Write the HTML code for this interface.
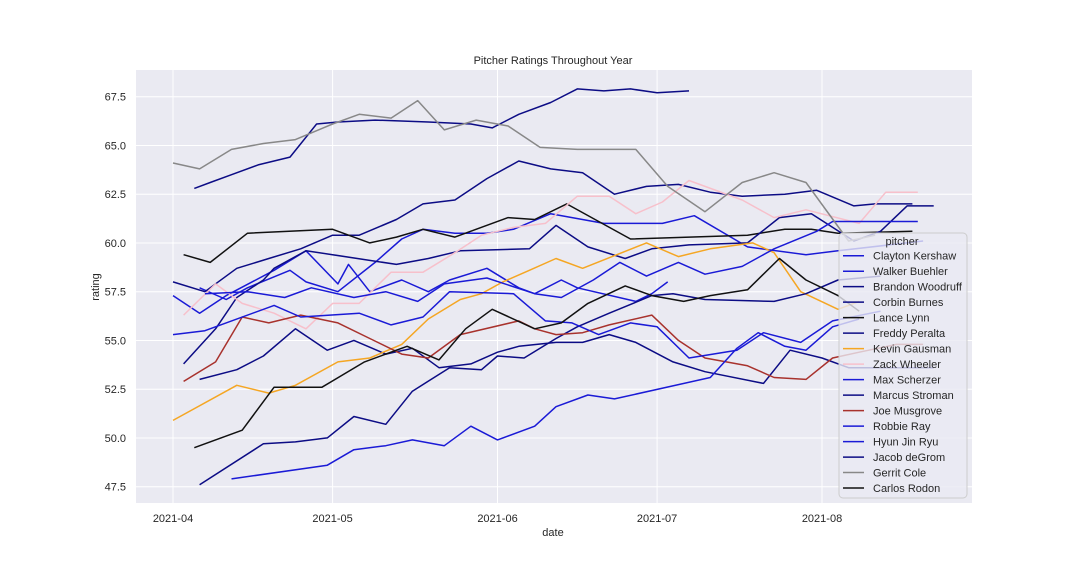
<!DOCTYPE html>
<html><head><meta charset="utf-8">
<style>
html,body{margin:0;padding:0;background:#fff;}
svg{display:block;font-family:"Liberation Sans","DejaVu Sans",sans-serif;}
</style></head>
<body>
<svg id="chart" width="1080" height="576" viewBox="0 0 1080 576">
  <rect x="136" y="70" width="836" height="433" fill="#eaeaf2"/>
  <g id="grid"></g>
  <g id="ticks"></g>
  <g id="lines"></g>
  <text x="553" y="64" text-anchor="middle" font-size="11" fill="#262626">Pitcher Ratings Throughout Year</text>
  <text x="553" y="536" text-anchor="middle" font-size="11" fill="#262626">date</text>
  <text x="99" y="287" text-anchor="middle" font-size="11" fill="#262626" transform="rotate(-90 99 287)">rating</text>
  <g id="legend"></g>
</svg>
<script>
const yTicks = [47.5, 50.0, 52.5, 55.0, 57.5, 60.0, 62.5, 65.0, 67.5];
const xTickDays = [0, 30, 61, 91, 122];
const xTickLabels = ["2021-04", "2021-05", "2021-06", "2021-07", "2021-08"];
const seriesNames = ["Clayton Kershaw","Walker Buehler","Brandon Woodruff","Corbin Burnes","Lance Lynn","Freddy Peralta","Kevin Gausman","Zack Wheeler","Max Scherzer","Marcus Stroman","Joe Musgrove","Robbie Ray","Hyun Jin Ryu","Jacob deGrom","Gerrit Cole","Carlos Rodon"];
const seriesColors = ["#1a1ad6","#1a1ad6","#0c0c85","#0c0c85","#111111","#0c0c85","#f5a623","#f7c0cb","#1a1ad6","#0c0c85","#a8322d","#1a1ad6","#1a1ad6","#0c0c85","#888888","#111111"];

const kershawDays = [0,5,10,19,25,31,33,37,43,48,52,59,65,68,73,76,87,90,93];
const kershawVals = [57.3,56.4,57.3,58.6,59.6,57.9,58.9,57.5,58.1,57.5,58.1,58.7,57.7,57.4,58.1,57.7,57.0,57.4,58.0];
const buehlerDays = [5,10,14,22,25,31,38,43,47,53,59,64,71,81,92,98,108,119,125,141];
const buehlerVals = [57.7,57.1,57.7,58.6,58.0,57.5,59.0,60.2,60.7,60.5,60.5,60.7,61.5,61.0,61.0,61.4,59.8,59.4,59.6,60.1];
const woodruffDays = [0,6,12,18,24,30,35,42,47,53,59,65,71,77,83,89,95,101,107,115,121,128,132,139];
const woodruffVals = [58.0,57.5,58.7,59.2,59.7,60.4,60.4,61.2,62.0,62.2,63.3,64.2,63.8,63.6,62.5,62.9,63.0,62.6,62.4,62.5,62.7,61.9,62.0,62.0];
const burnesDays = [5,12,17,23,29,34,40,45,50,56,61,65,72,77,82,87,94,100,111,116,122,127,143];
const burnesVals = [53.0,53.5,54.2,55.6,54.5,55.0,54.3,54.6,53.6,53.8,54.4,54.7,54.9,54.9,55.3,54.9,53.9,53.4,52.8,54.5,54.1,53.6,53.6];
const lynnDays = [2,7,14,30,37,42,47,53,63,68,74,86,108,115,120,125,139];
const lynnVals = [59.4,59.0,60.5,60.7,60.0,60.3,60.7,60.3,61.3,61.2,62.0,60.2,60.4,60.7,60.7,60.5,60.6];
const peraltaDays = [2,8,12,17,19,25,30,42,48,54,67,72,78,85,90,97,108,114,120,128,133,138,143];
const peraltaVals = [53.8,55.6,57.2,58.1,58.7,59.6,59.4,58.9,59.2,59.6,59.7,60.9,59.8,59.2,59.7,59.9,60.0,61.3,61.5,60.1,60.6,61.9,61.9];
const gausmanDays = [0,12,18,23,31,37,43,48,54,58,62,67,72,77,89,95,101,109,113,118,125,129];
const gausmanVals = [50.9,52.7,52.3,52.7,53.9,54.1,54.8,56.1,57.1,57.4,58.0,58.6,59.2,58.7,60.0,59.3,59.7,60.0,59.5,57.5,56.6,57.0];
const wheelerDays = [2,8,13,19,25,30,35,41,47,53,58,64,70,76,82,87,92,97,107,113,119,129,134,140];
const wheelerVals = [56.3,57.9,56.9,56.4,55.6,56.9,56.9,58.5,58.5,59.5,60.4,60.8,61.0,62.4,62.4,61.5,62.1,63.2,62.2,61.3,61.7,61.0,62.6,62.6];
const scherzerDays = [6,14,21,26,34,40,46,51,59,68,73,79,84,89,95,100,107,113,121,124,140];
const scherzerVals = [57.4,57.5,57.2,57.7,57.2,57.5,57.0,57.9,58.2,57.4,57.2,58.1,59.0,58.3,59.0,58.4,58.8,59.7,60.6,61.1,61.1];
const stromanDays = [5,17,23,29,34,40,45,52,58,61,66,72,76,82,90,94,100,113,119,125,133];
const stromanVals = [47.6,49.7,49.8,50.0,51.1,50.7,52.4,53.6,53.5,54.2,54.1,55.1,55.7,56.4,57.3,57.4,57.1,57.0,57.4,58.1,58.3];
const musgroveDays = [2,8,13,18,24,31,37,43,48,54,65,68,72,77,82,90,95,100,108,113,119,124,129,136,141];
const musgroveVals = [52.9,53.9,56.2,55.9,56.3,55.9,55.1,54.3,54.1,55.3,56.0,55.6,55.3,55.4,55.8,56.3,55.0,54.1,53.7,53.1,53.0,54.1,54.4,54.8,54.8];
const rayDays = [0,6,19,24,35,41,47,52,64,70,75,80,86,91,97,106,111,118,124,133];
const rayVals = [55.3,55.5,56.8,56.2,56.4,55.8,56.2,57.5,57.4,56.0,55.9,55.3,55.9,55.7,54.1,54.5,55.4,54.9,56.0,56.5];
const ryuDays = [11,29,34,40,45,51,56,61,68,72,78,83,101,106,110,115,119,124,129];
const ryuVals = [47.9,48.6,49.4,49.6,49.9,49.6,50.6,49.9,50.6,51.6,52.2,52.0,53.1,54.6,55.4,54.7,54.5,55.7,56.1];
const degromDays = [4,7,11,16,22,27,31,38,48,56,60,65,71,76,81,86,91,97];
const degromVals = [62.8,63.1,63.5,64.0,64.4,66.1,66.2,66.3,66.2,66.1,65.9,66.6,67.2,67.9,67.8,67.9,67.7,67.8];
const coleDays = [0,5,11,17,23,30,35,41,46,51,57,63,69,76,81,87,93,100,107,113,119,127,132];
const coleVals = [64.1,63.8,64.8,65.1,65.3,66.1,66.6,66.4,67.3,65.8,66.3,66.0,64.9,64.8,64.8,64.8,62.9,61.6,63.1,63.6,63.1,60.1,60.4];
const rodonDays = [4,13,19,28,36,44,50,55,60,68,73,78,85,90,96,101,108,114,119,125,129];
const rodonVals = [49.5,50.4,52.6,52.6,53.9,54.7,54.0,55.6,56.6,55.6,55.9,56.9,57.8,57.3,57.0,57.3,57.6,59.2,58.1,57.3,56.5];

const seriesDays = [kershawDays,buehlerDays,woodruffDays,burnesDays,lynnDays,peraltaDays,gausmanDays,wheelerDays,scherzerDays,stromanDays,musgroveDays,rayDays,ryuDays,degromDays,coleDays,rodonDays];
const seriesVals = [kershawVals,buehlerVals,woodruffVals,burnesVals,lynnVals,peraltaVals,gausmanVals,wheelerVals,scherzerVals,stromanVals,musgroveVals,rayVals,ryuVals,degromVals,coleVals,rodonVals];

const NS = "http://www.w3.org/2000/svg";
function xScale(d){ return 173 + d * (822 - 173) / 122; }
function yScale(v){ return 96.7 + (67.5 - v) * 19.5; }
function mk(tag, attrs){ const e = document.createElementNS(NS, tag); for (const k in attrs) e.setAttribute(k, attrs[k]); return e; }

const grid = document.getElementById('grid');
const ticks = document.getElementById('ticks');
yTicks.forEach(v => {
  const y = yScale(v);
  const gl = mk('line', {x1:136, x2:972, y1:y, y2:y, stroke:'#ffffff', 'stroke-width':1});
  
  
  grid.appendChild(gl);
  const t = mk('text', {x:126, y:y + 4, 'text-anchor':'end', 'font-size':11, fill:'#262626'});
  t.textContent = v.toFixed(1);
  
  
  ticks.appendChild(t);
});
xTickDays.forEach((d, i) => {
  const x = xScale(d);
  const gl = mk('line', {x1:x, x2:x, y1:70, y2:503, stroke:'#ffffff', 'stroke-width':1});
  
  
  grid.appendChild(gl);
  const t = mk('text', {x:x, y:522, 'text-anchor':'middle', 'font-size':11, fill:'#262626'});
  t.textContent = xTickLabels[i];
  
  
  ticks.appendChild(t);
});

const lines = document.getElementById('lines');
seriesNames.forEach((name, i) => {
  const pts = seriesDays[i].map((d, j) => xScale(d).toFixed(1) + ',' + yScale(seriesVals[i][j]).toFixed(1)).join(' ');
  const pl = mk('polyline', {points:pts, fill:'none', stroke:seriesColors[i], 'stroke-width':1.5, 'stroke-linejoin':'round'});
  
  
  lines.appendChild(pl);
});

const legend = document.getElementById('legend');
const box = mk('rect', {x:839, y:233, width:128, height:265, rx:4, fill:'#eaeaf2', 'fill-opacity':0.8, stroke:'#cccccc', 'stroke-width':1});


legend.appendChild(box);
const lt = mk('text', {x:902, y:245, 'text-anchor':'middle', 'font-size':11, fill:'#262626'});
lt.textContent = 'pitcher';


legend.appendChild(lt);
seriesNames.forEach((name, i) => {
  const y = 255.7 + i * 15.49;
  const g = mk('g', {});
  
  
  const l = mk('line', {x1:843, x2:864, y1:y, y2:y, stroke:seriesColors[i], 'stroke-width':1.5});
  
  
  const t = mk('text', {x:873, y:y + 4, 'font-size':11, fill:'#262626'});
  t.textContent = name;
  
  
  g.appendChild(l); g.appendChild(t);
  legend.appendChild(g);
});
</script>
</body></html>
